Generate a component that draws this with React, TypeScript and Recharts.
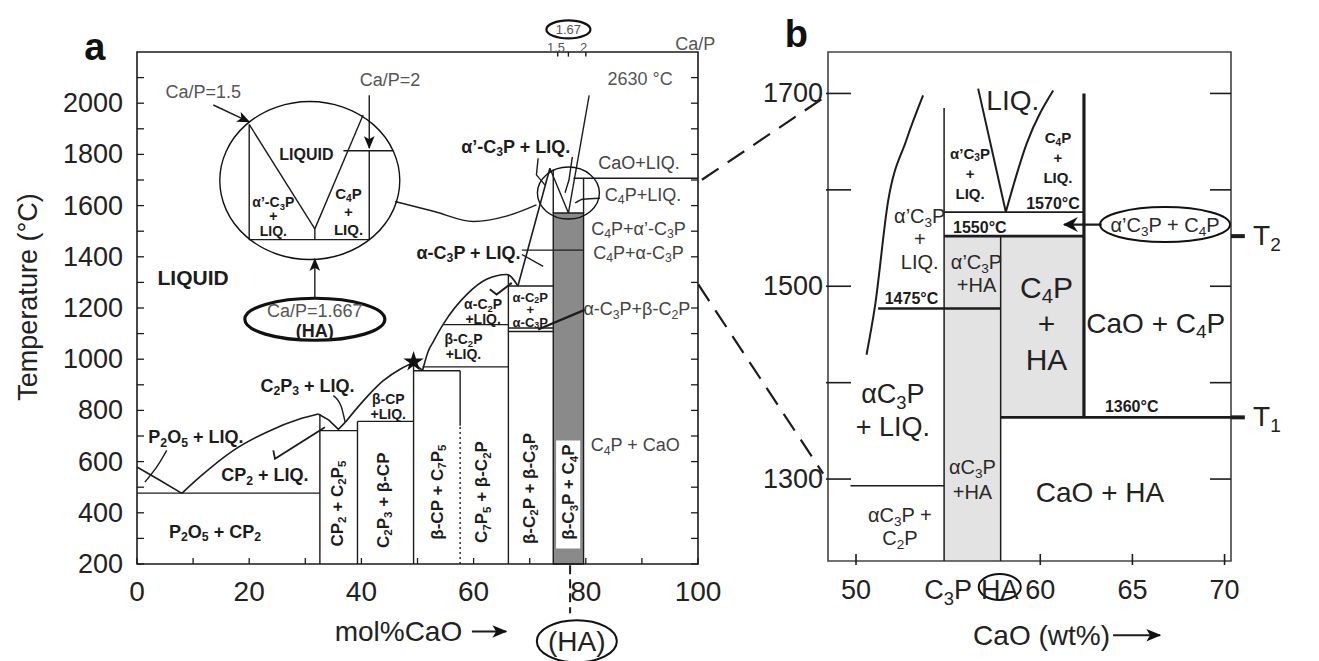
import React from 'react'
import {
  ComposedChart,
  Line,
  XAxis,
  YAxis,
  ReferenceArea,
  ReferenceDot,
  ReferenceLine,
  Symbols,
} from 'recharts'

type Pt = [number, number]
type Lbl = { x: number; t: number; text: string; kind: string }
type Kind = { size: number; weight?: number; fill?: string; lh?: number; rot?: boolean }
type Sty = { w?: number; dash?: string; curve?: boolean; head?: string }

const FONT = '"Liberation Sans", Arial, Helvetica, sans-serif'
const INK = '#1c1c1c'

// ---------- panel a : CaO–P2O5, mol% CaO vs temperature ----------
const aTempTicks = [200, 300, 400, 500, 600, 700, 800, 900, 1000, 1100, 1200, 1300, 1400, 1500, 1600, 1700, 1800, 1900, 2000, 2100]
const aTempLabels = [200, 400, 600, 800, 1000, 1200, 1400, 1600, 1800, 2000]
const aMolTicks = [0, 10, 20, 30, 40, 50, 60, 70, 80, 90, 100]
const aMolLabels = [0, 20, 40, 60, 80, 100]
// Ca/P scale on the top edge
const aCaPTicks = [75, 76.9, 80]

// liquidus branches
const aLiqP2O5: Pt[] = [[0, 579], [4, 528], [8, 476]]
const aLiqCP2: Pt[] = [[8, 476], [11.2, 540], [17.2, 644], [23.1, 715], [29.1, 767], [32.3, 786]]
const aLiqC2P5: Pt[] = [[32.3, 786], [34.2, 762], [35.9, 726], [37.1, 753]]
const aLiqBetaCP: Pt[] = [[37.1, 753], [40.9, 851], [43.9, 916], [46.9, 961], [48.7, 980], [49.3, 984]]
const aLiqC7P5: Pt[] = [[49.3, 984], [50.9, 956]]
const aLiqBetaC2P: Pt[] = [[50.9, 956], [51.9, 1030], [52.8, 1068], [54.6, 1137], [58.8, 1253], [62.3, 1312], [65.9, 1331], [67.9, 1286]]
const aLiqC3P: Pt[] = [[67.9, 1286], [73.6, 1746]]
const aLiqHA: Pt[] = [[73.6, 1746], [76.9, 1571]]
const aLiqCaO: Pt[] = [[80.6, 2031], [76.9, 1571]]

// isotherms
const aH477: Pt[] = [[0, 477], [32.6, 477]]
const aH721: Pt[] = [[32.6, 721], [39.3, 721]]
const aH757: Pt[] = [[39.3, 757], [49.3, 757]]
const aH955: Pt[] = [[49.3, 955], [57.6, 955]]
const aH970: Pt[] = [[50.9, 970], [66.2, 970]]
const aH1135: Pt[] = [[54.6, 1135], [66.2, 1135]]
const aH1122: Pt[] = [[66.2, 1122], [74.2, 1122]]
const aH1108: Pt[] = [[66.2, 1108], [74.2, 1108]]
const aH1286: Pt[] = [[66.2, 1286], [74.2, 1286]]
const aH1426: Pt[] = [[68.6, 1426], [79.6, 1426]]
const aH1707: Pt[] = [[77.8, 1707], [100, 1707]]

// compound lines
const aV326: Pt[] = [[32.6, 200], [32.6, 786]]
const aV393: Pt[] = [[39.3, 200], [39.3, 757]]
const aV493: Pt[] = [[49.3, 200], [49.3, 984]]
const aV576: Pt[] = [[57.6, 740], [57.6, 955]]
const aV576dot: Pt[] = [[57.6, 200], [57.6, 740]]
const aV662: Pt[] = [[66.2, 200], [66.2, 1331]]
const aV742: Pt[] = [[74.2, 1571], [74.2, 1741]]
const aV796: Pt[] = [[79.6, 1571], [79.6, 1707]]

// enlarged inset (circle) around Ca/P 1.5 - 2
const aInV1: Pt[] = [[20.0, 1917], [20.0, 1467]]
const aInH1: Pt[] = [[20.0, 1467], [41.4, 1467]]
const aInV2: Pt[] = [[41.4, 1467], [41.4, 1814]]
const aInH2: Pt[] = [[36.8, 1814], [45.7, 1814]]
const aInLeft: Pt[] = [[20.0, 1917], [31.7, 1509]]
const aInRight: Pt[] = [[31.7, 1509], [40.3, 1954]]
const aInV3: Pt[] = [[31.7, 1509], [31.7, 1467]]
const aLink: Pt[] = [[46.0, 1616], [53, 1577], [60, 1538], [66, 1560], [71.2, 1603]]

// arrows and pointers
const aArrHA: Pt[] = [[31.7, 1239], [31.7, 1391]]
const aArrCaP2: Pt[] = [[41.4, 2031], [41.4, 1825]]
const aArrCaP15: Pt[] = [[13.6, 1993], [20.0, 1927]]
const aPtrP2O5: Pt[] = [[1.4, 520], [3.7, 585], [5.3, 644]]
const aPtrCP2: Pt[] = [[24.3, 644], [24.6, 611], [33.5, 734]]
const aPtrC2P3: Pt[] = [[35.0, 858], [36.4, 815], [37.1, 754]]
const aPtrAlphaC2P: Pt[] = [[62.9, 1273], [64.1, 1253], [66.8, 1298]]
const aPtrAlphaC3P: Pt[] = [[68.6, 1409], [72.4, 1363]]
const aPtrBetaC2P: Pt[] = [[79.9, 1194], [71.5, 1116]]
const aPtrPrime: Pt[] = [[71.5, 1785], [71.2, 1720], [72.7, 1681]]
const aPtrPrime2: Pt[] = [[77.6, 1790], [77.0, 1700], [76.3, 1650]]
const aPtrC4P: Pt[] = [[78.1, 1610], [79.5, 1625], [82.5, 1629]]

const aLabels: Lbl[] = [
  { x: -7.5, t: 2219, text: 'a', kind: 'panel' },
  { x: -19.4, t: 1243, text: 'Temperature (°C)', kind: 'axisRot' },
  { x: 46.6, t: -63.5, text: 'mol%CaO', kind: 'axis' },
  { x: 78.4, t: -102, text: '(HA)', kind: 'axis' },
  { x: 99.5, t: 2232, text: 'Ca/P', kind: 'note' },
  { x: 76.9, t: 2288, text: '1.67', kind: 'small' },
  { x: 74.7, t: 2221, text: '1.5', kind: 'small' },
  { x: 79.6, t: 2221, text: '2', kind: 'small' },
  { x: 89.7, t: 2094, text: '2630 °C', kind: 'note' },
  { x: 10.0, t: 1321, text: 'LIQUID', kind: 'liqBig' },
  { x: 11.8, t: 2044, text: 'Ca/P=1.5', kind: 'note' },
  { x: 45.1, t: 2090, text: 'Ca/P=2', kind: 'note' },
  { x: 30.2, t: 1800, text: 'LIQUID', kind: 'insetTitle' },
  { x: 24.3, t: 1558, text: 'α’-C_3P\n+\nLIQ.', kind: 'inset' },
  { x: 37.7, t: 1577, text: 'C_4P\n+\nLIQ.', kind: 'insetLoose' },
  { x: 31.7, t: 1188, text: 'Ca/P=1.667', kind: 'note' },
  { x: 31.7, t: 1110, text: '(HA)', kind: 'haBold' },
  { x: 67.5, t: 1830, text: 'α’-C_3P + LIQ.', kind: 'phase' },
  { x: 89.5, t: 1765, text: 'CaO+LIQ.', kind: 'side' },
  { x: 90.2, t: 1642, text: 'C_4P+LIQ.', kind: 'side' },
  { x: 89.4, t: 1509, text: 'C_4P+α’-C_3P', kind: 'side' },
  { x: 89.4, t: 1415, text: 'C_4P+α-C_3P', kind: 'side' },
  { x: 59.1, t: 1415, text: 'α-C_3P + LIQ.', kind: 'phase' },
  { x: 61.7, t: 1186, text: 'α-C_2P\n+LIQ.', kind: 'box' },
  { x: 70.1, t: 1196, text: 'α-C_2P\n+\nα-C_3P', kind: 'boxTight' },
  { x: 58.2, t: 1049, text: 'β-C_2P\n+LIQ.', kind: 'box' },
  { x: 89.1, t: 1195, text: 'α-C_3P+β-C_2P', kind: 'side' },
  { x: 88.8, t: 663, text: 'C_4P + CaO', kind: 'side' },
  { x: 44.8, t: 816, text: 'β-CP\n+LIQ.', kind: 'box' },
  { x: 30.4, t: 896, text: 'C_2P_3 + LIQ.', kind: 'region' },
  { x: 10.5, t: 695, text: 'P_2O_5 + LIQ.', kind: 'region' },
  { x: 22.8, t: 546, text: 'CP_2 + LIQ.', kind: 'region' },
  { x: 13.9, t: 326, text: 'P_2O_5 + CP_2', kind: 'region' },
  { x: 35.6, t: 436, text: 'CP_2 + C_2P_5', kind: 'vert' },
  { x: 43.9, t: 449, text: 'C_2P_3 + β-CP', kind: 'vert' },
  { x: 53.4, t: 481, text: 'β-CP + C_7P_5', kind: 'vert' },
  { x: 61.4, t: 481, text: 'C_7P_5 + β-C_2P', kind: 'vert' },
  { x: 69.8, t: 495, text: 'β-C_2P + β-C_3P', kind: 'vert' },
  { x: 76.9, t: 481, text: 'β-C_3P + C_4P', kind: 'vert' },
]

// ---------- panel b : enlarged region, wt% CaO ----------
const bTempTicks = [1300, 1400, 1500, 1600, 1700]
const bTempLabels = [1300, 1500, 1700]
const bWtTicks = [50, 55.0, 57.8, 60, 65, 70]
const bWtNames = ['50', 'C_3P', 'HA', '60', '65', '70']
const bWtMarked = [50, 60, 65, 70]

const bLiqLeft: Pt[] = [[50.57, 1429], [51.02, 1478], [51.74, 1588], [52.74, 1652], [53.64, 1698]]
const bLiqVLeft: Pt[] = [[56.63, 1705], [58.13, 1577]]
const bLiqVRight: Pt[] = [[58.13, 1577], [59.26, 1648], [60.7, 1703]]
const bH1577: Pt[] = [[54.78, 1577], [62.37, 1577]]
const bH1552: Pt[] = [[54.78, 1552], [62.37, 1552]]
const bH1477: Pt[] = [[51.2, 1477], [57.85, 1477]]
const bH1293: Pt[] = [[49.7, 1293], [54.78, 1293]]
const bH1364: Pt[] = [[57.85, 1364], [70.35, 1364]]
const bVC4P: Pt[] = [[62.37, 1364], [62.37, 1700]]
const bVC3P: Pt[] = [[54.78, 1215], [54.78, 1685]]
const bVHA: Pt[] = [[57.85, 1215], [57.85, 1552]]
const bArrow: Pt[] = [[63.33, 1564], [61.3, 1564]]

const bLabels: Lbl[] = [
  { x: 46.76, t: 1762, text: 'b', kind: 'panel' },
  { x: 60.07, t: 1138, text: 'CaO (wt%)', kind: 'axis' },
  { x: 58.51, t: 1693, text: 'LIQ.', kind: 'big' },
  { x: 56.19, t: 1618, text: 'α’C_3P\n+\nLIQ.', kind: 'smallBold' },
  { x: 60.96, t: 1634, text: 'C_4P\n+\nLIQ.', kind: 'smallBold' },
  { x: 60.69, t: 1586, text: '1570°C', kind: 'temp' },
  { x: 56.72, t: 1561, text: '1550°C', kind: 'temp' },
  { x: 53.46, t: 1549, text: 'α’C_3P\n+\nLIQ.', kind: 'mid' },
  { x: 53.01, t: 1488, text: '1475°C', kind: 'temp' },
  { x: 56.54, t: 1513, text: 'α’C_3P\n+HA', kind: 'mid' },
  { x: 60.34, t: 1462, text: 'C_4P\n+\nHA', kind: 'huge' },
  { x: 66.27, t: 1462, text: 'CaO + C_4P', kind: 'large' },
  { x: 52.0, t: 1371, text: 'αC_3P\n+ LIQ.', kind: 'liq2' },
  { x: 56.32, t: 1300, text: 'αC_3P\n+HA', kind: 'midLoose' },
  { x: 63.24, t: 1287, text: 'CaO + HA', kind: 'large' },
  { x: 52.38, t: 1251, text: 'αC_3P +\nC_2P', kind: 'mid' },
  { x: 64.96, t: 1376, text: '1360°C', kind: 'temp' },
  { x: 66.77, t: 1564, text: 'α’C_3P + C_4P', kind: 'mid' },
  { x: 72.3, t: 1553, text: 'T_2', kind: 'large' },
  { x: 72.3, t: 1365, text: 'T_1', kind: 'large' },
]

const kindsA: Record<string, Kind> = {
  panel: { size: 38, weight: 700, fill: '#111' },
  axis: { size: 28, fill: '#222' },
  axisRot: { size: 27, fill: '#222', rot: true },
  liqBig: { size: 21, weight: 700 },
  inset: { size: 14, weight: 700, lh: 14.5 },
  insetLoose: { size: 15, weight: 700, lh: 18 },
  insetTitle: { size: 16, weight: 700 },
  note: { size: 18, fill: '#555' },
  small: { size: 13, fill: '#555' },
  haBold: { size: 18, weight: 700 },
  phase: { size: 18, weight: 700 },
  box: { size: 14, weight: 700, lh: 15.5 },
  boxTight: { size: 13, weight: 700, lh: 12.5 },
  side: { size: 18, fill: '#444' },
  region: { size: 18, weight: 700 },
  vert: { size: 17, weight: 700, rot: true },
}

const kindsB: Record<string, Kind> = {
  panel: { size: 38, weight: 700, fill: '#111' },
  axis: { size: 28, fill: '#222' },
  big: { size: 28, fill: '#222' },
  smallBold: { size: 15, weight: 700, lh: 20 },
  temp: { size: 16, weight: 700 },
  mid: { size: 20, fill: '#2a2a2a', lh: 23 },
  midLoose: { size: 20, fill: '#2a2a2a', lh: 25 },
  huge: { size: 30, fill: '#222', lh: 36 },
  large: { size: 28, fill: '#222' },
  liq2: { size: 27, fill: '#222', lh: 33 },
}

const pts = (a: Pt[]) => a.map(([x, t]) => ({ x, t }))

// "C_4P" -> C with subscript 4, P
function rich(s: string, size: number) {
  const parts = s.split(/(_.)/).filter(Boolean)
  const off = size * 0.3
  let down = false
  return parts.map((p, i) => {
    if (p.length === 2 && p[0] === '_') {
      const el = (
        <tspan key={i} fontSize={size * 0.68} dy={down ? 0 : off}>
          {p[1]}
        </tspan>
      )
      down = true
      return el
    }
    const el = (
      <tspan key={i} dy={down ? -off : 0}>
        {p}
      </tspan>
    )
    down = false
    return el
  })
}

const textShape = (l: Lbl, kinds: Record<string, Kind>) => (p: any) => {
  const k = kinds[l.kind]
  const lines = l.text.split('\n')
  const lh = k.lh ?? k.size * 1.15
  const { cx, cy } = p
  return (
    <g transform={k.rot ? `rotate(-90 ${cx} ${cy})` : undefined}>
      {lines.map((ln, i) => (
        <text
          key={i}
          x={cx}
          y={cy + (i - (lines.length - 1) / 2) * lh}
          textAnchor="middle"
          dominantBaseline="central"
          fontFamily={FONT}
          fontSize={k.size}
          fontWeight={k.weight ?? 400}
          fill={k.fill ?? INK}
        >
          {rich(ln, k.size)}
        </text>
      ))}
    </g>
  )
}

const ellipse = (rx: number, ry: number, w: number) => (p: any) => (
  <ellipse cx={p.cx} cy={p.cy} rx={rx} ry={ry} fill="none" stroke="#111" strokeWidth={w} />
)

const star = (p: any) => <Symbols cx={p.cx} cy={p.cy} type="star" size={130} fill="#111" />

const renderLines = (list: Array<[Pt[], Sty]>) =>
  list.map(([d, s], i) => (
    <Line
      key={i}
      data={pts(d)}
      dataKey="t"
      type={s.curve ? 'monotone' : 'linear'}
      stroke={INK}
      strokeWidth={s.w ?? 1.4}
      strokeDasharray={s.dash}
      markerEnd={s.head ? `url(#${s.head})` : undefined}
      dot={false}
      activeDot={false}
      legendType="none"
      isAnimationActive={false}
    />
  ))

const renderLabels = (list: Lbl[], kinds: Record<string, Kind>) =>
  list.map((l, i) => (
    <ReferenceDot key={'l' + i} x={l.x} y={l.t} r={1} ifOverflow="visible" shape={textShape(l, kinds)} />
  ))

// ---------- axis ticks (inward tick marks) ----------
const tickText = { fontFamily: FONT, fontSize: 27, fill: '#222' }

const aLeftTick = (p: any) => {
  const v = p.payload.value
  return (
    <g>
      <line x1={p.x} x2={p.x + 7} y1={p.y} y2={p.y} stroke={INK} strokeWidth={1.3} />
      {aTempLabels.includes(v) && (
        <text x={p.x - 14} y={p.y} textAnchor="end" dominantBaseline="central" {...tickText}>
          {v}
        </text>
      )}
    </g>
  )
}
const aRightTick = (p: any) => (
  <line x1={p.x} x2={p.x - 7} y1={p.y} y2={p.y} stroke={INK} strokeWidth={1.3} />
)
const aBottomTick = (p: any) => {
  const v = p.payload.value
  return (
    <g>
      <line x1={p.x} x2={p.x} y1={p.y} y2={p.y - 6} stroke={INK} strokeWidth={1.3} />
      {aMolLabels.includes(v) && (
        <text x={p.x} y={p.y + 27} textAnchor="middle" dominantBaseline="central" {...tickText} fontSize={28}>
          {v}
        </text>
      )}
    </g>
  )
}

const bLeftTick = (p: any) => {
  const v = p.payload.value
  return (
    <g>
      <line x1={p.x - 2} x2={p.x + 23} y1={p.y} y2={p.y} stroke={INK} strokeWidth={1.6} />
      {bTempLabels.includes(v) && (
        <text x={p.x - 5} y={p.y} textAnchor="end" dominantBaseline="central" {...tickText}>
          {v}
        </text>
      )}
    </g>
  )
}
const bRightTick = (p: any) => (
  <line x1={p.x} x2={p.x - 21} y1={p.y} y2={p.y} stroke={INK} strokeWidth={1.6} />
)
const bBottomTick = (p: any) => {
  const v = p.payload.value
  const name = bWtNames[bWtTicks.indexOf(v)]
  return (
    <g>
      {bWtMarked.includes(v) && <line x1={p.x} x2={p.x} y1={p.y - 7} y2={p.y + 4} stroke={INK} strokeWidth={1.6} />}
      {name === 'HA' && <ellipse cx={p.x} cy={p.y + 26} rx={21} ry={13} fill="none" stroke="#111" strokeWidth={2} />}
      <text x={p.x} y={p.y + 29} textAnchor="middle" dominantBaseline="central" {...tickText}>
        {rich(name, 27)}
      </text>
    </g>
  )
}

const axisBase = {
  type: 'number' as const,
  allowDataOverflow: true,
  axisLine: false,
  tickLine: false,
  tickSize: 0,
  tickMargin: 0,
  interval: 0 as const,
}

function PanelA() {
  const strokes: Array<[Pt[], Sty]> = [
    [aH477, {}], [aH721, {}], [aH757, {}], [aH955, {}], [aH970, {}], [aH1135, {}],
    [aH1122, {}], [aH1108, {}], [aH1286, {}], [aH1426, {}], [aH1707, {}],
    [aV326, {}], [aV393, {}], [aV493, {}], [aV576, {}], [aV576dot, { dash: '2 3' }], [aV662, {}],
    [aV742, {}], [aV796, {}],
    [aLiqP2O5, { curve: true, w: 1.6 }], [aLiqCP2, { curve: true, w: 1.6 }], [aLiqC2P5, { w: 1.6 }],
    [aLiqBetaCP, { curve: true, w: 1.6 }], [aLiqC7P5, { w: 1.6 }], [aLiqBetaC2P, { curve: true, w: 1.6 }],
    [aLiqC3P, { w: 1.6 }], [aLiqHA, { w: 1.4 }], [aLiqCaO, { w: 1.4 }],
    [aInV1, {}], [aInH1, {}], [aInV2, {}], [aInH2, {}], [aInLeft, {}], [aInRight, {}], [aInV3, {}],
    [aLink, { curve: true }],
    [aArrHA, { head: 'ah' }], [aArrCaP2, { head: 'ah' }], [aArrCaP15, { head: 'ah' }],
    [aPtrP2O5, { curve: true }], [aPtrCP2, { w: 1.8 }], [aPtrC2P3, { curve: true }],
    [aPtrAlphaC2P, { w: 2 }], [aPtrAlphaC3P, {}], [aPtrBetaC2P, { w: 2.4 }],
    [aPtrPrime, {}], [aPtrPrime2, {}], [aPtrC4P, { curve: true }],
  ]
  return (
    <ComposedChart width={840} height={661} margin={{ top: 52, right: 132, bottom: 37, left: 0 }}>
      <XAxis {...axisBase} dataKey="x" domain={[0, 100]} ticks={aMolTicks} height={60} tick={aBottomTick} />
      <YAxis {...axisBase} domain={[200, 2200]} ticks={aTempTicks} width={137} tick={aLeftTick} />
      <YAxis {...axisBase} yAxisId="r" orientation="right" domain={[200, 2200]} ticks={aTempTicks} width={10} tick={aRightTick} />

      <ReferenceArea x1={74.2} x2={79.6} y1={200} y2={1571} fill="#8a8a8a" fillOpacity={1} stroke={INK} strokeWidth={1.4} />
      <ReferenceArea x1={74.7} x2={79.0} y1={261} y2={682} fill="#ffffff" fillOpacity={1} stroke="none" />
      <ReferenceArea x1={0} x2={100} y1={200} y2={2200} fill="none" stroke={INK} strokeWidth={1.6} ifOverflow="visible" />

      {renderLines(strokes)}

      {aCaPTicks.map((c) => (
        <ReferenceLine key={'cap' + c} segment={[{ x: c, y: 2200 }, { x: c, y: 2182 }]} stroke={INK} strokeWidth={1.4} ifOverflow="visible" />
      ))}

      <ReferenceDot x={30.8} y={1698} r={1} ifOverflow="visible" shape={ellipse(90, 79, 1.4)} />
      <ReferenceDot x={76.9} y={1649} r={1} ifOverflow="visible" shape={ellipse(31, 26, 1.4)} />
      <ReferenceDot x={31.7} y={1156} r={1} ifOverflow="visible" shape={ellipse(70, 21, 3.2)} />
      <ReferenceDot x={76.9} y={2288} r={1} ifOverflow="visible" shape={ellipse(22, 9, 2.2)} />
      <ReferenceDot x={78.4} y={-102} r={1} ifOverflow="visible" shape={ellipse(40, 21, 2)} />
      <ReferenceDot x={49.3} y={990} r={1} ifOverflow="visible" shape={star} />

      <ReferenceLine segment={[{ x: 77.2, y: 195 }, { x: 77.2, y: 8 }]} stroke={INK} strokeWidth={2} strokeDasharray="9 5" ifOverflow="visible" />
      <ReferenceLine segment={[{ x: 100.7, y: 1701 }, { x: 123.2, y: 2033 }]} stroke={INK} strokeWidth={2.2} strokeDasharray="20 11" ifOverflow="visible" />
      <ReferenceLine segment={[{ x: 100.05, y: 1292 }, { x: 122.3, y: 553 }]} stroke={INK} strokeWidth={2.2} strokeDasharray="20 11" ifOverflow="visible" />
      <ReferenceLine segment={[{ x: 59.7, y: -63.5 }, { x: 65.8, y: -63.5 }]} stroke={INK} strokeWidth={2} markerEnd="url(#ahT)" ifOverflow="visible" />

      {renderLabels(aLabels, kindsA)}
    </ComposedChart>
  )
}

function PanelB() {
  const strokes: Array<[Pt[], Sty]> = [
    [bLiqLeft, { curve: true, w: 2 }], [bLiqVLeft, { w: 2 }], [bLiqVRight, { curve: true, w: 2 }],
    [bH1577, { w: 1.8 }], [bH1552, { w: 2.6 }], [bH1477, { w: 2.6 }], [bH1293, { w: 1.5 }],
    [bH1364, { w: 2.6 }], [bVC4P, { w: 3.2 }], [bVC3P, { w: 1.5 }], [bVHA, { w: 1.5 }],
    [bArrow, { w: 2.2, head: 'ahB' }],
  ]
  return (
    <ComposedChart width={559} height={661} margin={{ top: 52, right: 80, bottom: 40, left: 0 }}>
      <XAxis {...axisBase} dataKey="x" domain={[48.48, 70.35]} ticks={bWtTicks} height={60} tick={bBottomTick} />
      <YAxis {...axisBase} domain={[1215, 1743]} ticks={bTempTicks} width={68} tick={bLeftTick} />
      <YAxis {...axisBase} yAxisId="r" orientation="right" domain={[1215, 1743]} ticks={bTempTicks} width={8} tick={bRightTick} />

      <ReferenceArea x1={54.78} x2={57.85} y1={1215} y2={1552} fill="#e3e3e3" fillOpacity={1} stroke="none" />
      <ReferenceArea x1={57.85} x2={62.37} y1={1364} y2={1552} fill="#e3e3e3" fillOpacity={1} stroke="none" />
      <ReferenceArea x1={48.48} x2={70.35} y1={1215} y2={1743} fill="none" stroke="#444" strokeWidth={1.6} ifOverflow="visible" />

      {renderLines(strokes)}

      <ReferenceLine segment={[{ x: 70.35, y: 1364 }, { x: 71.1, y: 1364 }]} stroke={INK} strokeWidth={4} ifOverflow="visible" />
      <ReferenceLine segment={[{ x: 70.35, y: 1552 }, { x: 71.1, y: 1552 }]} stroke={INK} strokeWidth={4} ifOverflow="visible" />
      <ReferenceLine segment={[{ x: 63.95, y: 1138 }, { x: 66.5, y: 1138 }]} stroke={INK} strokeWidth={2} markerEnd="url(#ahT)" ifOverflow="visible" />
      <ReferenceDot x={66.77} y={1564} r={1} ifOverflow="visible" shape={ellipse(65, 17.5, 2)} />

      {renderLabels(bLabels, kindsB)}
    </ComposedChart>
  )
}

export default function App() {
  return (
    <div style={{ position: 'relative', width: 1319, height: 661, background: '#fff', fontFamily: FONT }}>
      <style>{'body{margin:0}'}</style>
      <svg width={0} height={0} style={{ position: 'absolute' }}>
        <defs>
          <marker id="ah" viewBox="0 0 12 10" refX="11" refY="5" markerWidth="13" markerHeight="11" markerUnits="userSpaceOnUse" orient="auto">
            <path d="M0,0 L12,5 L0,10 L3,5 z" fill="#111" />
          </marker>
          <marker id="ahB" viewBox="0 0 12 12" refX="11" refY="6" markerWidth="16" markerHeight="15" markerUnits="userSpaceOnUse" orient="auto">
            <path d="M0,0 L12,6 L0,12 L4,6 z" fill="#111" />
          </marker>
          <marker id="ahT" viewBox="0 0 12 10" refX="11" refY="5" markerWidth="15" markerHeight="13" markerUnits="userSpaceOnUse" orient="auto">
            <path d="M0,0 L12,5 L0,10 L3,5 z" fill="#111" />
          </marker>
        </defs>
      </svg>
      <div style={{ position: 'absolute', left: 0, top: 0 }}>
        <PanelA />
      </div>
      <div style={{ position: 'absolute', left: 760, top: 0 }}>
        <PanelB />
      </div>
    </div>
  )
}
